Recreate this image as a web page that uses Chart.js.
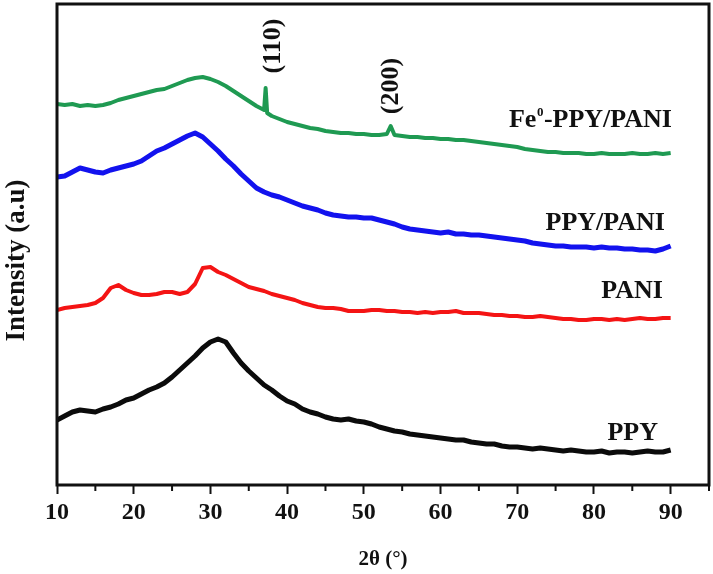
<!DOCTYPE html>
<html>
<head>
<meta charset="utf-8">
<script src="https://cdn.jsdelivr.net/npm/chart.js@4.4.0/dist/chart.umd.min.js"></script>
<style>
  html, body { margin: 0; padding: 0; background: #fff; }
  #xrd { display: block; }
</style>
</head>
<body>
<canvas id="xrd" width="713" height="574"></canvas>
<script>
// 2theta grid in degrees, one point per degree
const twoTheta = Array.from({ length: 81 }, (_, i) => 10 + i);

// intensities (a.u., curves already stacked with offsets)
const ppy = [65, 69, 73, 75, 74, 73, 76, 78, 81, 85, 87, 91, 95, 98, 102, 108, 115, 122, 129, 137,
  143, 146, 143, 132, 122, 114, 107, 100, 95, 89, 84, 81, 76, 73, 71, 68, 66, 65, 66, 64,
  63, 61, 58, 56, 54, 53, 51, 50, 49, 48, 47, 46, 45, 45, 43, 42, 41, 41, 39, 38,
  38, 37, 36, 37, 36, 35, 34, 35, 34, 33, 33, 34, 32, 33, 33, 32, 33, 34, 33, 33, 35];

const pani = [175, 177, 178, 179, 180, 182, 187, 197, 200, 195, 192, 190, 190, 191, 193, 193, 191, 193, 201, 217,
  218, 213, 210, 206, 202, 198, 196, 194, 191, 189, 187, 185, 182, 180, 178, 177, 177, 176, 174, 174,
  174, 175, 175, 174, 174, 173, 173, 172, 173, 172, 173, 173, 174, 172, 172, 172, 171, 170, 170, 169,
  169, 168, 168, 169, 168, 167, 166, 166, 165, 165, 166, 166, 165, 166, 165, 166, 167, 166, 166, 167, 167];

const ppyPani = [308, 309, 313, 317, 315, 313, 312, 315, 317, 319, 321, 324, 329, 334, 337, 341, 345, 349, 352, 348,
  341, 334, 326, 319, 311, 304, 297, 293, 290, 288, 285, 282, 279, 277, 275, 272, 270, 269, 268, 268,
  267, 267, 265, 263, 261, 258, 256, 255, 254, 253, 252, 253, 251, 251, 250, 250, 249, 248, 247, 246,
  245, 244, 242, 241, 240, 239, 239, 238, 238, 238, 237, 238, 237, 237, 236, 236, 235, 235, 234, 236, 239];

const fePpyPani = [381, 380, 381, 379, 380, 379, 380, 382, 385, 387, 389, 391, 393, 395, 396, 399, 402, 405, 407, 408,
  406, 403, 399, 394, 389, 384, 379, 375, 369, 366, 363, 361, 359, 357, 356, 354, 353, 352, 352, 351,
  351, 350, 350, 351, 350, 349, 348, 348, 347, 347, 346, 346, 345, 345, 344, 343, 342, 341, 340, 339,
  338, 336, 335, 334, 333, 333, 332, 332, 332, 331, 331, 332, 331, 331, 331, 332, 331, 331, 332, 331, 332];

// the two sharp Fe reflections on top of the Fe0-PPY/PANI curve
const fePeakTheta = [37.2, 37.4, 53.5];
const fePeakValues = [397, 372, 359];

const seriesNames = ['PPY', 'PANI', 'PPY/PANI', 'Fe⁰-PPY/PANI'];
const seriesColors = ['#0b0b0b', '#f41414', '#1212ee', '#1f9a52'];
const peakNames = ['(110)', '(200)'];
const xMinorTicks = [15, 25, 35, 45, 55, 65, 75, 85, 95];

const pts = (xs, ys) => xs.map((x, i) => ({ x: x, y: ys[i] }));

const fePoints = pts(twoTheta, fePpyPani)
  .concat(pts(fePeakTheta, fePeakValues))
  .sort((a, b) => a.x - b.x);

const serif = '"Liberation Serif", "Times New Roman", serif';

// where the text sits, in data units (right edge / baseline for the names)
const nameAnchors = [[88.35, 45], [89.0, 187], [89.26, 255], [90.17, 358]];
const peakAnchors = [[38.16, 439], [53.54, 399]];

const annotate = {
  id: 'annotate',
  afterDatasetsDraw(chart) {
    const { ctx, chartArea: a, scales: { x, y } } = chart;
    ctx.save();
    ctx.strokeStyle = '#111';
    ctx.fillStyle = '#111';

    ctx.lineWidth = 2;
    xMinorTicks.forEach((v) => {
      const px = x.getPixelForValue(v);
      ctx.beginPath();
      ctx.moveTo(px, a.bottom);
      ctx.lineTo(px, a.bottom + 6);
      ctx.stroke();
    });

    ctx.lineWidth = 3;
    ctx.strokeRect(a.left, a.top, a.right - a.left, a.bottom - a.top);

    // y axis title, a little below the middle of the frame as in the figure
    ctx.save();
    ctx.font = 'bold 27px ' + serif;
    ctx.textAlign = 'center';
    ctx.textBaseline = 'middle';
    ctx.translate(a.left - 40, (a.top + a.bottom) / 2 + 16);
    ctx.rotate(-Math.PI / 2);
    ctx.fillText('Intensity (a.u)', 0, 0);
    ctx.restore();

    // curve names, right aligned
    ctx.textBaseline = 'alphabetic';
    ctx.textAlign = 'left';
    seriesNames.forEach((name, i) => {
      const right = x.getPixelForValue(nameAnchors[i][0]);
      const base = y.getPixelForValue(nameAnchors[i][1]);
      const parts = name.split('⁰');
      const big = 'bold 26px ' + serif;
      const small = 'bold 13px ' + serif;
      ctx.font = big;
      let w = ctx.measureText(parts.join('')).width;
      if (parts.length > 1) {
        ctx.font = small;
        w += ctx.measureText('0').width + 1;
      }
      let cx = right - w;
      ctx.font = big;
      ctx.fillText(parts[0], cx, base);
      cx += ctx.measureText(parts[0]).width;
      if (parts.length > 1) {
        ctx.font = small;
        ctx.fillText('0', cx + 0.5, base - 11);
        cx += ctx.measureText('0').width + 1;
        ctx.font = big;
        ctx.fillText(parts[1], cx, base);
      }
    });

    // Miller indices, rotated
    ctx.font = 'bold 26px ' + serif;
    ctx.textAlign = 'center';
    ctx.textBaseline = 'middle';
    peakNames.forEach((name, i) => {
      ctx.save();
      ctx.translate(x.getPixelForValue(peakAnchors[i][0]), y.getPixelForValue(peakAnchors[i][1]));
      ctx.rotate(-Math.PI / 2);
      ctx.fillText(name, 0, 0);
      ctx.restore();
    });
    ctx.restore();
  }
};

const ctx = document.getElementById('xrd').getContext('2d');
new Chart(ctx, {
  type: 'line',
  data: {
    datasets: [
      { label: seriesNames[0], data: pts(twoTheta, ppy), borderColor: seriesColors[0], borderWidth: 5 },
      { label: seriesNames[1], data: pts(twoTheta, pani), borderColor: seriesColors[1], borderWidth: 4 },
      { label: seriesNames[2], data: pts(twoTheta, ppyPani), borderColor: seriesColors[2], borderWidth: 5 },
      { label: seriesNames[3], data: fePoints, borderColor: seriesColors[3], borderWidth: 4 },
    ],
  },
  options: {
    responsive: false,
    animation: false,
    elements: { point: { radius: 0 }, line: { tension: 0, borderJoinStyle: 'round' } },
    layout: { padding: { top: 4, right: 4, left: 0, bottom: 0 } },
    plugins: { legend: { display: false }, tooltip: { enabled: false } },
    scales: {
      x: {
        type: 'linear',
        min: 10,
        max: 95,
        afterFit: (s) => { s.height = 89; },
        border: { display: false },
        grid: { drawOnChartArea: false, tickLength: 9, tickWidth: 2, tickColor: '#111' },
        ticks: {
          stepSize: 10,
          includeBounds: false,
          maxRotation: 0,
          padding: 4,
          color: '#111',
          font: { family: serif, size: 24, weight: 'bold' },
        },
        title: {
          display: true,
          text: '2θ (°)',
          color: '#111',
          font: { family: serif, size: 21, weight: 'bold' },
          padding: { top: 0, bottom: 2 },
        },
      },
      y: {
        min: 0,
        max: 481,
        afterFit: (s) => { s.width = 57; },
        border: { display: false },
        grid: { display: false },
        ticks: { display: false },
        title: { display: false },
      },
    },
  },
  plugins: [annotate],
});
</script>
</body>
</html>
